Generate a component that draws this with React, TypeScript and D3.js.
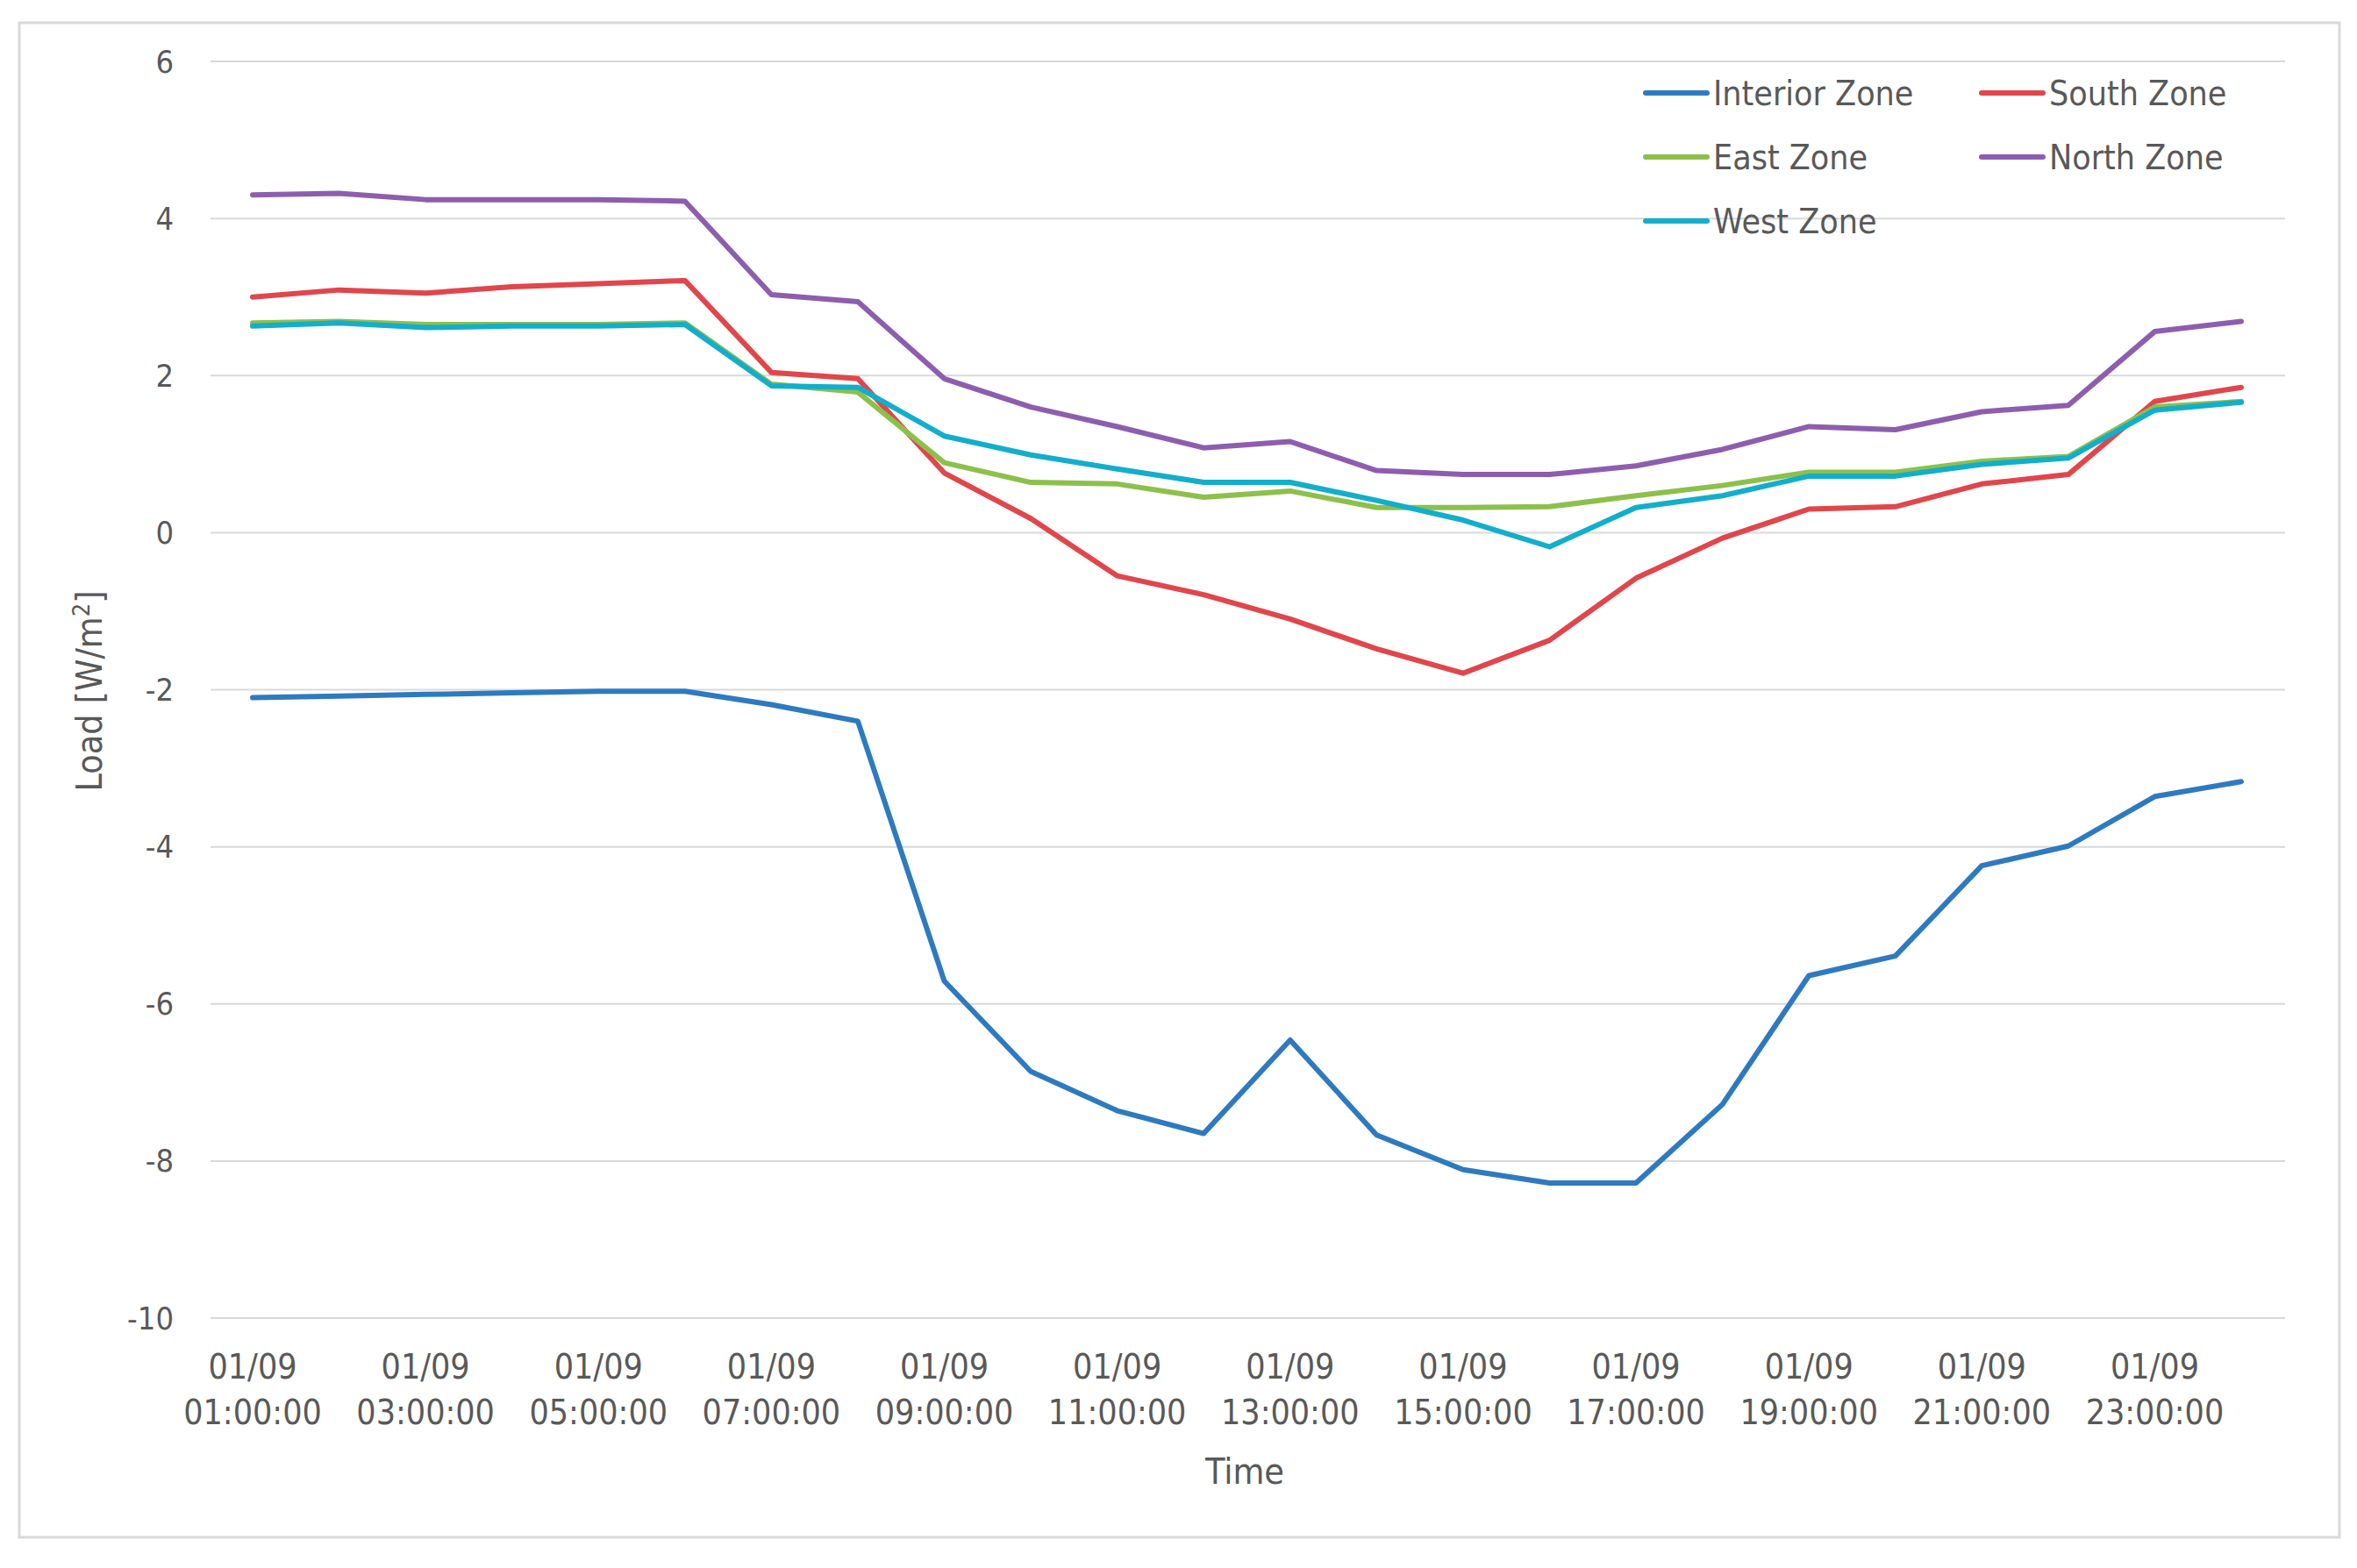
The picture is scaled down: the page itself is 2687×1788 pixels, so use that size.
import { useEffect, useRef } from "react";
import * as d3 from "d3";

const hours = d3.range(1, 25);
const tickLabels = [
  "01:00:00", "03:00:00", "05:00:00", "07:00:00", "09:00:00", "11:00:00",
  "13:00:00", "15:00:00", "17:00:00", "19:00:00", "21:00:00", "23:00:00",
];
const tickHours = [1, 3, 5, 7, 9, 11, 13, 15, 17, 19, 21, 23];
const yTicks = [6, 4, 2, 0, -2, -4, -6, -8, -10];

const interior = [-2.1, -2.08, -2.06, -2.04, -2.02, -2.02, -2.19, -2.4, -5.71, -6.86, -7.36, -7.65, -6.46, -7.67, -8.11, -8.28, -8.28, -7.28, -5.64, -5.39, -4.24, -3.99, -3.36, -3.17];
const south = [3.0, 3.09, 3.05, 3.13, 3.17, 3.21, 2.04, 1.96, 0.76, 0.18, -0.55, -0.79, -1.1, -1.48, -1.79, -1.37, -0.58, -0.07, 0.3, 0.33, 0.62, 0.74, 1.67, 1.85];
const east = [2.67, 2.69, 2.65, 2.65, 2.65, 2.67, 1.89, 1.79, 0.89, 0.64, 0.62, 0.45, 0.53, 0.32, 0.32, 0.33, 0.47, 0.6, 0.77, 0.77, 0.91, 0.97, 1.6, 1.67];
const north = [4.3, 4.32, 4.24, 4.24, 4.24, 4.22, 3.03, 2.94, 1.96, 1.6, 1.35, 1.08, 1.16, 0.79, 0.74, 0.74, 0.85, 1.06, 1.35, 1.31, 1.54, 1.62, 2.56, 2.69];
const west = [2.63, 2.67, 2.61, 2.63, 2.63, 2.65, 1.87, 1.85, 1.23, 0.99, 0.81, 0.64, 0.64, 0.41, 0.16, -0.18, 0.32, 0.47, 0.72, 0.72, 0.87, 0.95, 1.56, 1.66];

const series = [
  { name: "Interior Zone", values: interior, color: "#2E7AC0" },
  { name: "South Zone", values: south, color: "#E0464B" },
  { name: "East Zone", values: east, color: "#8DC04B" },
  { name: "North Zone", values: north, color: "#8D5EAE" },
  { name: "West Zone", values: west, color: "#12AECB" },
];

const W = 2687;
const H = 1788;
const FONT = "'Liberation Sans Narrow', 'DejaVu Sans Condensed', sans-serif";
const TEXT = "#595959";

export default function App() {
  const svgRef = useRef<SVGSVGElement | null>(null);

  useEffect(() => {
    const svg = d3.select(svgRef.current);
    svg.selectAll("*").remove();

    const x = d3.scaleLinear().domain([1, 24]).range([288, 2555]);
    const y = d3.scaleLinear().domain([-10, 6]).range([1503, 70]);

    svg.append("rect")
      .attr("x", 22).attr("y", 26).attr("width", 2645).attr("height", 1727)
      .attr("fill", "#fff").attr("stroke", "#d9d9d9").attr("stroke-width", 3);

    // grid
    svg.append("g").selectAll("line").data(yTicks).join("line")
      .attr("x1", 240).attr("x2", 2605)
      .attr("y1", (d) => y(d)).attr("y2", (d) => y(d))
      .attr("stroke", "#d9d9d9").attr("stroke-width", 2);

    svg.append("g").selectAll("text").data(yTicks).join("text")
      .attr("x", 198).attr("y", (d) => y(d)).attr("dy", "0.35em")
      .attr("text-anchor", "end")
      .attr("font-family", FONT).attr("font-size", 36).attr("fill", TEXT)
      .text((d) => (d < 0 ? "-" + Math.abs(d) : String(d)));

    const xl = svg.append("g").selectAll("g").data(tickHours).join("g")
      .attr("transform", (d) => `translate(${x(d)},0)`);
    xl.append("text").attr("y", 1572).attr("text-anchor", "middle")
      .attr("font-family", FONT).attr("font-size", 39).attr("fill", TEXT)
      .text("01/09");
    xl.append("text").attr("y", 1624).attr("text-anchor", "middle")
      .attr("font-family", FONT).attr("font-size", 39).attr("fill", TEXT)
      .text((_, i) => tickLabels[i]);

    svg.append("text").attr("x", 1419).attr("y", 1692).attr("text-anchor", "middle")
      .attr("font-family", FONT).attr("font-size", 41).attr("fill", TEXT)
      .text("Time");

    const yt = svg.append("text")
      .attr("transform", "translate(116,788) rotate(-90)")
      .attr("text-anchor", "middle")
      .attr("font-family", FONT).attr("font-size", 41).attr("fill", TEXT);
    yt.append("tspan").text("Load [W/m");
    yt.append("tspan").attr("font-size", 27).attr("dy", -14).text("2");
    yt.append("tspan").attr("dy", 14).text("]");

    const line = d3.line<number>()
      .x((_, i) => x(hours[i]))
      .y((d) => y(d));

    svg.append("g").selectAll("path").data(series).join("path")
      .attr("d", (d) => line(d.values))
      .attr("fill", "none")
      .attr("stroke", (d) => d.color)
      .attr("stroke-width", 6)
      .attr("stroke-linejoin", "round")
      .attr("stroke-linecap", "round");

    // legend
    const leg = svg.append("g").selectAll("g").data(series).join("g")
      .attr("transform", (_, i) => `translate(${i % 2 === 0 ? 1876 : 2259},${106 + Math.floor(i / 2) * 73})`);
    leg.append("line").attr("x1", 0).attr("x2", 70)
      .attr("stroke", (d) => d.color).attr("stroke-width", 6).attr("stroke-linecap", "round");
    leg.append("text").attr("x", 77).attr("dy", "0.35em")
      .attr("font-family", FONT).attr("font-size", 39).attr("fill", TEXT)
      .text((d) => d.name);
  }, []);

  return (
    <div style={{ position: "absolute", left: 0, top: 0 }}>
      <svg ref={svgRef} width={W} height={H} style={{ display: "block" }}></svg>
    </div>
  );
}
